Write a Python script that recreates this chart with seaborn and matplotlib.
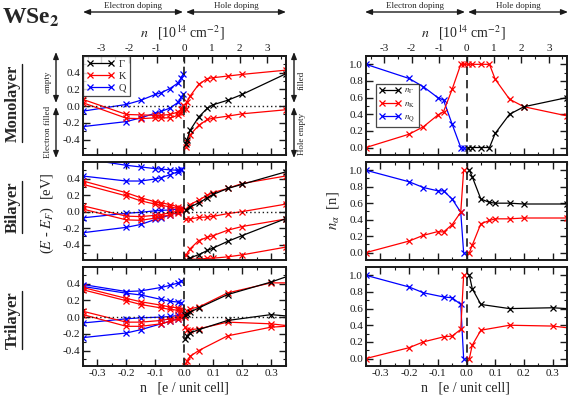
import numpy as np
import pandas as pd
import seaborn as sns
import matplotlib
matplotlib.use("Agg")
import matplotlib.pyplot as plt
from matplotlib.ticker import MultipleLocator, FixedLocator, FormatStrFormatter
from matplotlib.lines import Line2D
from matplotlib.patches import FancyArrowPatch

# ---------------- data ----------------
# conversion: 1e14 cm^-2 -> electrons per unit cell
CONV = 0.0955

# Monolayer bands
mono_xneg = [-0.35, -0.2, -0.15, -0.1, -0.08, -0.05, -0.02, -0.01, -0.003]
mono_Q1 = [-0.06, 0.02, 0.07, 0.14, 0.16, 0.21, 0.28, 0.34, 0.38]
mono_Q2 = [-0.245, -0.185, -0.14, -0.084, -0.064, -0.024, 0.048, 0.108, 0.14]
mono_K1 = [0.08, -0.10, -0.105, -0.11, -0.11, -0.10, -0.07, -0.03, 0.01]
mono_K2 = [0.04, -0.145, -0.15, -0.14, -0.14, -0.14, -0.11, -0.08, -0.03]
mono_xpos = [0.005, 0.01, 0.02, 0.05, 0.08, 0.1, 0.15, 0.2, 0.35]
mono_G = [-0.45, -0.40, -0.29, -0.13, -0.025, 0.017, 0.07, 0.14, 0.385]
mono_K3 = [-0.03, 0.05, 0.12, 0.26, 0.33, 0.34, 0.36, 0.38, 0.43]
mono_K4 = [-0.485, -0.43, -0.345, -0.23, -0.16, -0.145, -0.12, -0.092, -0.044]

# Bilayer bands
bi_xneg = [-0.35, -0.2, -0.15, -0.1, -0.08, -0.05, -0.02, -0.01]
bi_Q1 = [0.64, 0.56, 0.54, 0.52, 0.515, 0.505, 0.50, 0.51]
bi_Q2 = [0.43, 0.37, 0.37, 0.395, 0.41, 0.445, 0.485, 0.50]
bi_Q3 = [-0.075, -0.02, -0.008, 0.01, 0.015, 0.02, 0.03, 0.035]
bi_Q4 = [-0.255, -0.19, -0.155, -0.094, -0.078, -0.04, -0.005, 0.015]
bi_K1 = [0.37, 0.228, 0.167, 0.118, 0.106, 0.086, 0.057, 0.045]
bi_K2 = [0.33, 0.19, 0.13, 0.09, 0.078, 0.057, 0.037, 0.024]
bi_K3 = [0.07, -0.055, -0.06, -0.045, -0.037, -0.012, 0.004, 0.016]
bi_K4 = [0.03, -0.10, -0.105, -0.078, -0.065, -0.037, -0.012, 0.004]
bi_xpos = [0.005, 0.02, 0.05, 0.08, 0.1, 0.15, 0.2, 0.35]
bi_G1 = [0.02, 0.056, 0.105, 0.167, 0.208, 0.28, 0.33, 0.48]
bi_K5 = [0.024, 0.086, 0.138, 0.20, 0.23, 0.28, 0.34, 0.43]
bi_K6 = [-0.086, -0.09, -0.07, -0.065, -0.057, -0.024, 0.0, 0.09]
bi_K7 = [-0.53, -0.45, -0.35, -0.31, -0.29, -0.225, -0.18, -0.09]
bi_G2 = [-0.59, -0.56, -0.52, -0.47, -0.44, -0.36, -0.29, -0.086]
bi_K8 = [-0.58, -0.575, -0.575, -0.565, -0.563, -0.547, -0.523, -0.43]

# Trilayer bands
tri_xneg = [-0.35, -0.2, -0.15, -0.08, -0.05, -0.02, -0.01]
tri_Q1 = [0.39, 0.306, 0.314, 0.355, 0.38, 0.41, 0.435]
tri_Q2 = [0.367, 0.286, 0.265, 0.212, 0.19, 0.18, 0.175]
tri_Q3 = [-0.07, -0.02, -0.008, 0.0, 0.008, 0.02, 0.03]
tri_Q4 = [-0.245, -0.19, -0.15, -0.08, -0.05, -0.02, 0.0]
tri_K1 = [0.355, 0.224, 0.184, 0.143, 0.122, 0.11, 0.10]
tri_K2 = [0.327, 0.196, 0.151, 0.11, 0.094, 0.082, 0.07]
tri_K3 = [0.07, -0.06, -0.06, -0.04, -0.02, 0.0, 0.02]
tri_K4 = [0.03, -0.11, -0.11, -0.08, -0.05, -0.02, 0.0]
tri_xpos = [0.003, 0.01, 0.02, 0.05, 0.15, 0.3, 0.4]
tri_G1 = [0.03, 0.04, 0.06, 0.11, 0.27, 0.42, 0.54]
tri_K5 = [0.0, 0.07, 0.10, 0.12, 0.29, 0.41, 0.41]
tri_K6 = [-0.12, -0.15, -0.15, -0.14, -0.06, -0.08, -0.12]
tri_G2 = [-0.265, -0.22, -0.19, -0.15, -0.04, 0.03, 0.0]
tri_K7 = [-0.59, -0.53, -0.47, -0.40, -0.224, -0.12, -0.10]

# Occupations
occ1_xneg = [-0.35, -0.2, -0.15, -0.1, -0.08, -0.05, -0.02, -0.01]
occ1_nQ = [1.0, 0.83, 0.73, 0.60, 0.57, 0.28, 0.0, 0.0]
occ1_nK_neg = [0.0, 0.16, 0.25, 0.39, 0.43, 0.70, 1.0, 1.0]
occ1_xpos = [0.005, 0.02, 0.05, 0.08, 0.1, 0.15, 0.2, 0.35]
occ1_nK_pos = [1.0, 1.0, 1.0, 1.0, 0.82, 0.58, 0.49, 0.38]
occ1_nG = [0.0, 0.0, 0.0, 0.0, 0.17, 0.40, 0.49, 0.60]

occ2_xneg = [-0.35, -0.2, -0.15, -0.1, -0.08, -0.05, -0.02, -0.01]
occ2_nQ = [1.0, 0.86, 0.79, 0.75, 0.75, 0.65, 0.49, 0.0]
occ2_nK_neg = [0.0, 0.14, 0.21, 0.255, 0.25, 0.34, 0.49, 1.0]
occ2_xpos = [0.01, 0.02, 0.05, 0.08, 0.1, 0.15, 0.2, 0.35]
occ2_nK_pos = [0.0, 0.09, 0.35, 0.39, 0.41, 0.41, 0.42, 0.42]
occ2_nG = [1.0, 0.92, 0.65, 0.61, 0.60, 0.60, 0.59, 0.59]

occ3_xneg = [-0.35, -0.2, -0.15, -0.08, -0.05, -0.02, -0.01]
occ3_nQ = [1.0, 0.86, 0.79, 0.74, 0.73, 0.65, 0.0]
occ3_nK_neg = [0.0, 0.13, 0.20, 0.26, 0.27, 0.35, 1.0]
occ3_xpos = [0.01, 0.02, 0.05, 0.15, 0.3, 0.4]
occ3_nK_pos = [0.0, 0.16, 0.34, 0.40, 0.39, 0.35]
occ3_nG = [1.0, 0.84, 0.65, 0.60, 0.61, 0.59]

row_labels = ["Monolayer", "Bilayer", "Trilayer"]
left_yticks = [-0.4, -0.2, 0.0, 0.2, 0.4]
right_yticks = [0.0, 0.2, 0.4, 0.6, 0.8, 1.0]
top_ticks = [-3, -2, -1, 0, 1, 2, 3]
COLORS = {"G": "black", "K": "#ff0000", "Q": "#0000ff"}

# ---------------- style ----------------
sns.set_theme(style="ticks")
plt.rcParams["font.family"] = ["Liberation Serif", "DejaVu Serif"]
plt.rcParams["mathtext.fontset"] = "stix"
plt.rcParams["axes.unicode_minus"] = False

W, H = 571, 397
fig = plt.figure(figsize=(W / 100, H / 100), dpi=100)


def frac_rect(x0, y0, x1, y1):
    return [x0 / W, 1 - y1 / H, (x1 - x0) / W, (y1 - y0) / H]


rows_px = [(56, 155), (162, 260), (267, 366)]
left_x = (83, 285.5)
right_x = (366, 567)


def make_df(bands):
    recs = []
    for name, sp, xs, ys in bands:
        for a, b in zip(xs, ys):
            recs.append({"x": a, "y": b, "band": name, "sp": sp})
    return pd.DataFrame(recs)


def draw(ax, bands):
    df = make_df(bands)
    sns.lineplot(data=df, x="x", y="y", hue="sp", units="band", estimator=None,
                 palette=COLORS, marker="x", markersize=4, linewidth=0.9,
                 legend=False, ax=ax, sort=False)
    for ln in ax.lines:
        ln.set_markeredgecolor(ln.get_color())
        ln.set_markeredgewidth(0.9)


def style_axis(ax, ylim, yticks, yminor, bottom_labels, top_sec):
    ax.set_xlim(-0.35, 0.35)
    ax.set_ylim(*ylim)
    ax.xaxis.set_major_locator(MultipleLocator(0.1))
    ax.xaxis.set_minor_locator(MultipleLocator(0.05))
    ax.yaxis.set_major_locator(FixedLocator(yticks))
    ax.yaxis.set_minor_locator(FixedLocator(yminor))
    ax.xaxis.set_major_formatter(FormatStrFormatter("%.1f"))
    ax.yaxis.set_major_formatter(FormatStrFormatter("%.1f"))
    ax.tick_params(which="both", direction="in", top=not top_sec, right=True,
                   labelbottom=bottom_labels, labelsize=8, pad=2, colors="k")
    ax.tick_params(which="major", length=5, width=1)
    ax.tick_params(which="minor", length=2.5, width=0.8)
    for s in ax.spines.values():
        s.set_linewidth(1.4)
        s.set_color("k")
    ax.set_xlabel("")
    ax.set_ylabel("")
    ax.axvline(0, color="k", ls=(0, (5, 3)), lw=1.2, zorder=4)
    if top_sec:
        sec = ax.secondary_xaxis("top", functions=(lambda v: v / CONV, lambda v: v * CONV))
        sec.xaxis.set_major_locator(FixedLocator(top_ticks))
        sec.xaxis.set_minor_locator(FixedLocator([t + 0.5 for t in range(-4, 4)]))
        sec.xaxis.set_major_formatter(FormatStrFormatter("%d"))
        sec.tick_params(which="both", direction="in", labelsize=8, pad=2, colors="k")
        sec.tick_params(which="major", length=5, width=1)
        sec.tick_params(which="minor", length=2.5, width=0.8)
        sec.spines["top"].set_linewidth(1.4)


band_sets = [
    [("Q1", "Q", mono_xneg, mono_Q1), ("Q2", "Q", mono_xneg, mono_Q2),
     ("K1", "K", mono_xneg, mono_K1), ("K2", "K", mono_xneg, mono_K2),
     ("G", "G", mono_xpos, mono_G), ("K3", "K", mono_xpos, mono_K3),
     ("K4", "K", mono_xpos, mono_K4)],
    [("Q1", "Q", bi_xneg, bi_Q1), ("Q2", "Q", bi_xneg, bi_Q2),
     ("Q3", "Q", bi_xneg, bi_Q3), ("Q4", "Q", bi_xneg, bi_Q4),
     ("K1", "K", bi_xneg, bi_K1), ("K2", "K", bi_xneg, bi_K2),
     ("K3", "K", bi_xneg, bi_K3), ("K4", "K", bi_xneg, bi_K4),
     ("G1", "G", bi_xpos, bi_G1), ("K5", "K", bi_xpos, bi_K5),
     ("K6", "K", bi_xpos, bi_K6), ("K7", "K", bi_xpos, bi_K7),
     ("G2", "G", bi_xpos, bi_G2), ("K8", "K", bi_xpos, bi_K8)],
    [("Q1", "Q", tri_xneg, tri_Q1), ("Q2", "Q", tri_xneg, tri_Q2),
     ("Q3", "Q", tri_xneg, tri_Q3), ("Q4", "Q", tri_xneg, tri_Q4),
     ("K1", "K", tri_xneg, tri_K1), ("K2", "K", tri_xneg, tri_K2),
     ("K3", "K", tri_xneg, tri_K3), ("K4", "K", tri_xneg, tri_K4),
     ("G1", "G", tri_xpos, tri_G1), ("K5", "K", tri_xpos, tri_K5),
     ("K6", "K", tri_xpos, tri_K6), ("G2", "G", tri_xpos, tri_G2),
     ("K7", "K", tri_xpos, tri_K7)],
]

occ_sets = [
    [("nQ", "Q", occ1_xneg, occ1_nQ),
     ("nK", "K", occ1_xneg + occ1_xpos, occ1_nK_neg + occ1_nK_pos),
     ("nG", "G", occ1_xpos, occ1_nG)],
    [("nQ", "Q", occ2_xneg, occ2_nQ), ("nKn", "K", occ2_xneg, occ2_nK_neg),
     ("nKp", "K", occ2_xpos, occ2_nK_pos), ("nG", "G", occ2_xpos, occ2_nG)],
    [("nQ", "Q", occ3_xneg, occ3_nQ), ("nKn", "K", occ3_xneg, occ3_nK_neg),
     ("nKp", "K", occ3_xpos, occ3_nK_pos), ("nG", "G", occ3_xpos, occ3_nG)],
]

left_minor = [-0.5, -0.3, -0.1, 0.1, 0.3, 0.5]
right_minor = [0.1, 0.3, 0.5, 0.7, 0.9]

left_axes, right_axes = [], []
for i, (y0, y1) in enumerate(rows_px):
    axl = fig.add_axes(frac_rect(left_x[0], y0, left_x[1], y1))
    draw(axl, band_sets[i])
    style_axis(axl, (-0.585, 0.6), left_yticks, left_minor, i == 2, i == 0)
    axl.axhline(0, color="k", ls=(0, (1, 2)), lw=1.0, zorder=4)
    left_axes.append(axl)

    axr = fig.add_axes(frac_rect(right_x[0], y0, right_x[1], y1))
    draw(axr, occ_sets[i])
    style_axis(axr, (-0.09, 1.1), right_yticks, right_minor, i == 2, i == 0)
    right_axes.append(axr)

# legends
def leg_handles(labels):
    return [Line2D([0], [0], color=COLORS[k], marker="x", markersize=4, lw=0.9,
                   mew=0.9, label=l) for k, l in labels]

lg1 = left_axes[0].legend(handles=leg_handles([("G", "Γ"), ("K", "K"), ("Q", "Q")]),
                          loc="upper left", bbox_to_anchor=(0.0, 1.0), numpoints=2,
                          fontsize=7.5, frameon=True, fancybox=False, edgecolor="k",
                          handlelength=2.6, handletextpad=0.5, borderpad=0.35,
                          labelspacing=0.25, borderaxespad=0.0)
lg1.get_frame().set_linewidth(0.9)
lg2 = right_axes[0].legend(handles=leg_handles([("G", r"$n_\Gamma$"), ("K", r"$n_\mathrm{K}$"),
                                                ("Q", r"$n_\mathrm{Q}$")]),
                           loc="upper left", bbox_to_anchor=(0.05, 0.72), numpoints=2,
                           fontsize=6.5, frameon=True, fancybox=False, edgecolor="k",
                           handlelength=2.4, handletextpad=0.4, borderpad=0.35,
                           labelspacing=0.4, borderaxespad=0.0)
lg2.get_frame().set_linewidth(0.9)

# ---------------- annotations ----------------
def fx(x):
    return x / W


def fy(y):
    return 1 - y / H


def farrow(x0, y0, x1, y1):
    fig.add_artist(FancyArrowPatch((fx(x0), fy(y0)), (fx(x1), fy(y1)),
                                   transform=fig.transFigure,
                                   arrowstyle="<|-|>,head_length=0.5,head_width=0.2",
                                   mutation_scale=8, lw=1.0, color="k",
                                   shrinkA=0, shrinkB=0))


fig.text(fx(2), fy(24), r"WSe$_\mathbf{2}$", fontsize=17, fontweight="bold",
         ha="left", va="baseline")

for (ex0, ex1, hx0, hx1) in [(83, 183, 186, 286), (365, 465, 468, 568)]:
    farrow(ex0, 12, ex1, 12)
    farrow(hx0, 12, hx1, 12)
    fig.text(fx((ex0 + ex1) / 2), fy(6), "Electron doping", fontsize=6.5,
             ha="center", va="center")
    fig.text(fx((hx0 + hx1) / 2), fy(6), "Hole doping", fontsize=6.5,
             ha="center", va="center")

for cx in [182, 463]:
    fig.text(fx(cx), fy(33), r"$n$   [10$^{14}$ cm$^{-2}$]", fontsize=10,
             ha="center", va="center")
    fig.text(fx(cx + 2), fy(388), "n   [e / unit cell]", fontsize=10,
             ha="center", va="center")

# side arrows
farrow(56, 52, 56, 103)
farrow(56, 107, 56, 158)
fig.text(fx(48), fy(82), "empty", fontsize=6.5, rotation=90, ha="center", va="center")
fig.text(fx(48), fy(132), "Electron filled", fontsize=6.5, rotation=90,
         ha="center", va="center")
farrow(294, 52, 294, 103)
farrow(294, 107, 294, 158)
fig.text(fx(302), fy(80), "filled", fontsize=6.5, rotation=90, ha="center", va="center")
fig.text(fx(302), fy(134), "Hole empty", fontsize=6.5, rotation=90,
         ha="center", va="center")

fig.text(fx(47), fy(213), r"($E$ - $E_F$)  [eV]", fontsize=10.5, rotation=90,
         ha="center", va="center")
fig.text(fx(333), fy(211), r"$n_\alpha$  [n]", fontsize=10.5, rotation=90,
         ha="center", va="center")

row_txt = []
for lab, cy in zip(row_labels, [103, 207, 320]):
    t = fig.text(fx(13), fy(cy), lab, fontsize=12, fontweight="bold", rotation=90,
                 ha="center", va="center")
    row_txt.append(t)

fig.canvas.draw()
rend = fig.canvas.get_renderer()
for t in row_txt:
    bb = t.get_window_extent(rend)
    xline = (bb.x1 + 1.0) / W
    fig.add_artist(Line2D([xline, xline], [bb.y0 / H, bb.y1 / H], color="k", lw=1.0,
                          transform=fig.transFigure))

fig.savefig("out.png", dpi=100)
